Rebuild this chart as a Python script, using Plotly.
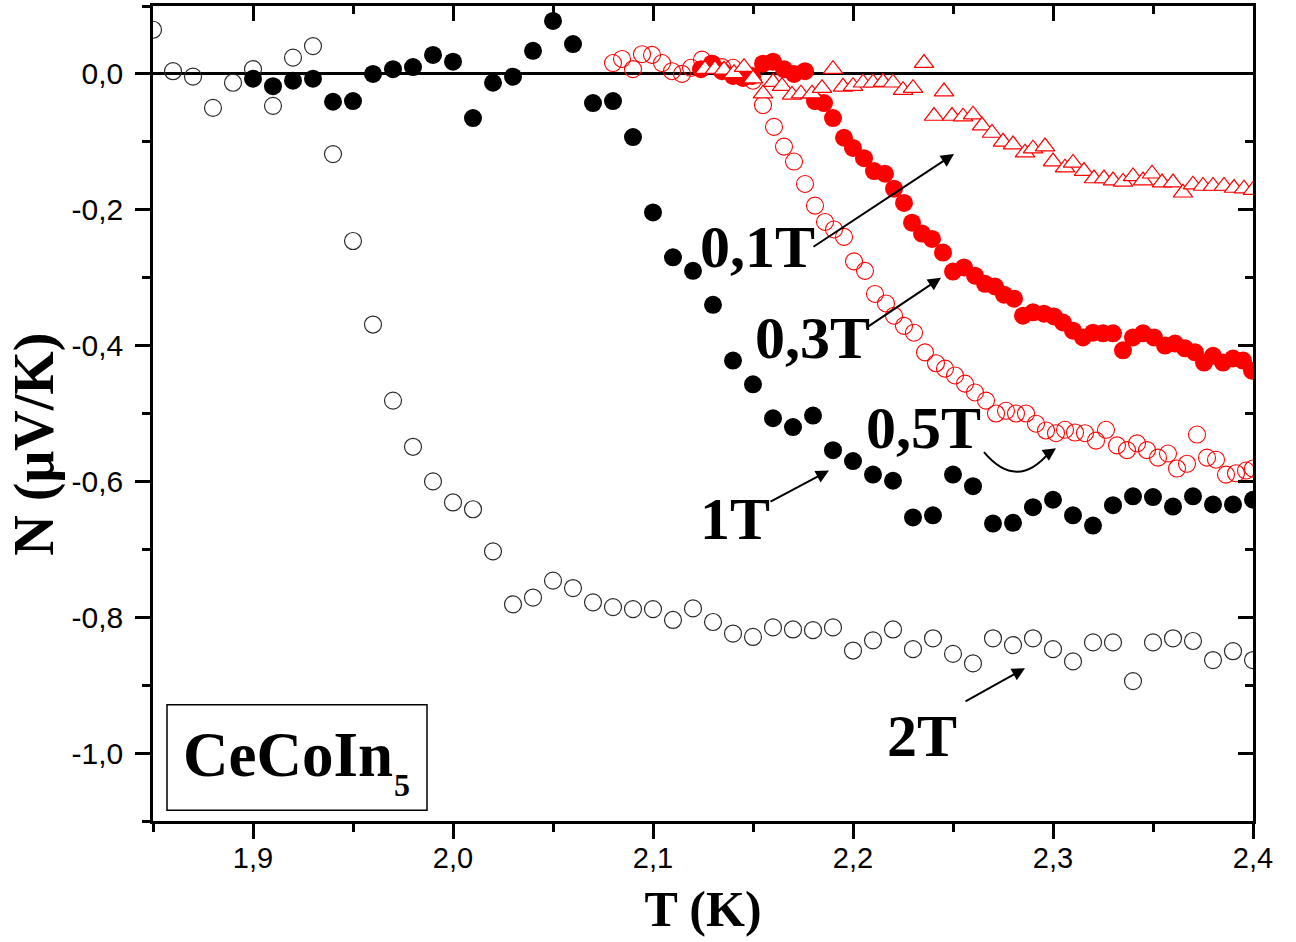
import plotly.graph_objects as go

# ---------------- data ----------------
T_2T = [1.85, 1.86, 1.87, 1.88, 1.89, 1.90, 1.91, 1.92, 1.93, 1.94,
        1.95, 1.96, 1.97, 1.98, 1.99, 2.00, 2.01, 2.02, 2.03, 2.04,
        2.05, 2.06, 2.07, 2.08, 2.09, 2.10, 2.11, 2.12, 2.13, 2.14,
        2.15, 2.16, 2.17, 2.18, 2.19, 2.20, 2.21, 2.22, 2.23, 2.24,
        2.25, 2.26, 2.27, 2.28, 2.29, 2.30, 2.31, 2.32, 2.33, 2.34,
        2.35, 2.36, 2.37, 2.38, 2.39, 2.40]
N_2T = [0.065, 0.004, -0.004, -0.050, -0.013, 0.007, -0.047, 0.024, 0.041, -0.118,
        -0.246, -0.369, -0.481, -0.549, -0.600, -0.631, -0.641, -0.703, -0.781, -0.771,
        -0.746, -0.757, -0.778, -0.785, -0.788, -0.788, -0.804, -0.787, -0.807, -0.824,
        -0.829, -0.815, -0.818, -0.819, -0.815, -0.849, -0.834, -0.818, -0.847, -0.831,
        -0.854, -0.868, -0.831, -0.841, -0.831, -0.847, -0.865, -0.837, -0.837, -0.894,
        -0.837, -0.831, -0.835, -0.863, -0.850, -0.863]

T_1T = [1.90, 1.91, 1.92, 1.93, 1.94, 1.95, 1.96, 1.97, 1.98, 1.99,
        2.00, 2.01, 2.02, 2.03, 2.04, 2.05, 2.06, 2.07, 2.08, 2.09,
        2.10, 2.11, 2.12, 2.13, 2.14, 2.15, 2.16, 2.17, 2.18, 2.19,
        2.20, 2.21, 2.22, 2.23, 2.24, 2.25, 2.26, 2.27, 2.28, 2.29,
        2.30, 2.31, 2.32, 2.33, 2.34, 2.35, 2.36, 2.37, 2.38, 2.39,
        2.40]
N_1T = [-0.007, -0.018, -0.010, -0.007, -0.041, -0.040, 0.000, 0.007, 0.010, 0.028,
        0.018, -0.065, -0.013, -0.004, 0.034, 0.078, 0.044, -0.043, -0.040, -0.093,
        -0.204, -0.270, -0.290, -0.340, -0.422, -0.457, -0.507, -0.520, -0.503, -0.554,
        -0.570, -0.590, -0.599, -0.653, -0.650, -0.590, -0.607, -0.662, -0.661, -0.638,
        -0.627, -0.650, -0.665, -0.635, -0.622, -0.623, -0.637, -0.622, -0.634, -0.634,
        -0.627]

T_05T = [2.080, 2.0845, 2.090, 2.0945, 2.0995, 2.1045, 2.1095, 2.1145, 2.119, 2.1245,
         2.1295, 2.1345, 2.140, 2.145, 2.150, 2.155, 2.1605, 2.1655, 2.1705, 2.176,
         2.181, 2.186, 2.1905, 2.1955, 2.2005, 2.206, 2.211, 2.2165, 2.2205, 2.2255,
         2.2305, 2.236, 2.2415, 2.246, 2.251, 2.256, 2.261, 2.2665, 2.2715, 2.2765,
         2.2815, 2.2865, 2.2915, 2.2965, 2.3015, 2.306, 2.311, 2.316, 2.3215, 2.3265,
         2.332, 2.337, 2.342, 2.347, 2.3525, 2.3575, 2.362, 2.367, 2.372, 2.377,
         2.3815, 2.3865, 2.3915, 2.3965, 2.400]
N_05T = [0.016, 0.022, 0.007, 0.029, 0.028, 0.016, 0.004, 0.000, 0.009, 0.021,
         0.015, 0.010, 0.009, 0.001, -0.010, -0.046, -0.078, -0.107, -0.129, -0.162,
         -0.194, -0.218, -0.229, -0.240, -0.276, -0.290, -0.324, -0.338, -0.356, -0.371,
         -0.381, -0.410, -0.426, -0.434, -0.444, -0.456, -0.469, -0.481, -0.500, -0.496,
         -0.500, -0.500, -0.515, -0.525, -0.529, -0.524, -0.528, -0.529, -0.540, -0.524,
         -0.547, -0.554, -0.544, -0.554, -0.565, -0.559, -0.581, -0.574, -0.531, -0.565,
         -0.568, -0.590, -0.588, -0.584, -0.581]

T_03T = [2.124, 2.1295, 2.1345, 2.140, 2.145, 2.1495, 2.155, 2.160, 2.1655, 2.1705,
         2.176, 2.181, 2.1855, 2.190, 2.1955, 2.200, 2.2055, 2.2105, 2.216, 2.2205,
         2.2255, 2.2295, 2.2345, 2.2395, 2.245, 2.250, 2.2555, 2.261, 2.266, 2.271,
         2.2755, 2.2805, 2.285, 2.290, 2.2955, 2.3005, 2.305, 2.310, 2.315, 2.320,
         2.325, 2.330, 2.335, 2.340, 2.345, 2.3505, 2.356, 2.361, 2.366, 2.371,
         2.3755, 2.380, 2.385, 2.390, 2.395, 2.3995]
N_03T = [0.007, 0.015, 0.004, -0.003, -0.006, -0.003, 0.015, 0.018, 0.007, 0.000,
         0.004, -0.040, -0.043, -0.065, -0.094, -0.109, -0.124, -0.143, -0.147, -0.169,
         -0.190, -0.219, -0.235, -0.243, -0.263, -0.291, -0.285, -0.297, -0.309, -0.313,
         -0.325, -0.331, -0.356, -0.351, -0.353, -0.357, -0.366, -0.378, -0.388, -0.381,
         -0.382, -0.382, -0.407, -0.388, -0.382, -0.388, -0.400, -0.397, -0.404, -0.410,
         -0.425, -0.415, -0.425, -0.419, -0.422, -0.437]

T_01T = [2.126, 2.131, 2.1355, 2.1405, 2.1455, 2.150, 2.155, 2.160, 2.1645, 2.1695,
         2.174, 2.1795, 2.1845, 2.190, 2.195, 2.200, 2.205, 2.210, 2.215, 2.220,
         2.225, 2.230, 2.2355, 2.2405, 2.2455, 2.2495, 2.255, 2.260, 2.2645, 2.2695,
         2.275, 2.280, 2.286, 2.290, 2.296, 2.300, 2.306, 2.310, 2.3155, 2.3205,
         2.3255, 2.330, 2.335, 2.340, 2.345, 2.3495, 2.3545, 2.360, 2.365, 2.370,
         2.375, 2.380, 2.3855, 2.3905, 2.3955, 2.400]
N_01T = [0.007, 0.007, 0.006, 0.001, 0.010, -0.007, -0.029, -0.012, -0.018, -0.031,
         -0.029, -0.029, -0.021, 0.007, -0.019, -0.018, -0.013, -0.013, -0.012, -0.013,
         -0.024, -0.021, 0.016, -0.062, -0.026, -0.062, -0.063, -0.060, -0.076, -0.087,
         -0.100, -0.104, -0.116, -0.110, -0.107, -0.129, -0.138, -0.131, -0.143, -0.154,
         -0.154, -0.157, -0.159, -0.151, -0.157, -0.147, -0.160, -0.160, -0.175, -0.163,
         -0.165, -0.165, -0.165, -0.168, -0.169, -0.171]

x_tickvals = [1.9, 2.0, 2.1, 2.2, 2.3, 2.4]
x_ticktext = ["1,9", "2,0", "2,1", "2,2", "2,3", "2,4"]
y_tickvals = [0.0, -0.2, -0.4, -0.6, -0.8, -1.0]
y_ticktext = ["0,0", "-0,2", "-0,4", "-0,6", "-0,8", "-1,0"]

X_RANGE = [1.85, 2.40]
Y_RANGE = [-1.1, 0.1]

RED = "#ff0000"
SERIF = "Liberation Serif, Times New Roman, serif"
SANS = "Liberation Sans, Arial, sans-serif"

fig = go.Figure()

fig.add_trace(go.Scatter(x=T_2T, y=N_2T, mode="markers", name="2T",
                         marker=dict(symbol="circle-open", size=17,
                                     color="#2a2a2a", line=dict(width=1.2))))
fig.add_trace(go.Scatter(x=T_1T, y=N_1T, mode="markers", name="1T",
                         marker=dict(symbol="circle", size=18, color="black",
                                     line=dict(width=0))))
fig.add_trace(go.Scatter(x=T_05T, y=N_05T, mode="markers", name="0,5T",
                         marker=dict(symbol="circle-open", size=17, color=RED,
                                     line=dict(width=1.1))))
fig.add_trace(go.Scatter(x=T_03T, y=N_03T, mode="markers", name="0,3T",
                         marker=dict(symbol="circle", size=18, color=RED,
                                     line=dict(width=0))))
fig.add_trace(go.Scatter(x=T_01T, y=N_01T, mode="markers", name="0,1T",
                         marker=dict(symbol="triangle-up", size=17, color="white",
                                     line=dict(width=1.2, color=RED))))
# helper trace so that the mirrored top/right axes get drawn
fig.add_trace(go.Scatter(x=[X_RANGE[0]], y=[Y_RANGE[0]], xaxis="x2", yaxis="y2",
                         mode="markers", marker=dict(opacity=0), hoverinfo="skip",
                         showlegend=False))

axis_common = dict(showgrid=False, linecolor="black", linewidth=2.5,
                   tickcolor="black", tickwidth=2.5, ticklen=15)

fig.update_layout(
    width=1296, height=942,
    margin=dict(l=153, r=43, t=6, b=121, autoexpand=False),
    paper_bgcolor="white", plot_bgcolor="white",
    showlegend=False,
    xaxis=dict(range=X_RANGE, tickvals=x_tickvals, ticktext=x_ticktext,
               ticks="outside", showline=True, zeroline=False,
               minor=dict(dtick=0.05, ticks="outside", ticklen=8, tickwidth=2.5,
                          tickcolor="black"),
               tickfont=dict(family=SANS, size=29, color="black"),
               ticklabelstandoff=-6,
               title=dict(text="<b>T (K)</b>", font=dict(family=SERIF, size=50, color="black"),
                          standoff=19),
               **axis_common),
    yaxis=dict(range=Y_RANGE, tickvals=y_tickvals, ticktext=y_ticktext,
               ticks="outside", showline=True,
               zeroline=True, zerolinecolor="black", zerolinewidth=2.5,
               minor=dict(dtick=0.1, ticks="outside", ticklen=8, tickwidth=2.5,
                          tickcolor="black"),
               tickfont=dict(family=SANS, size=30, color="black"),
               ticklabelstandoff=6,
               **axis_common),
    xaxis2=dict(range=X_RANGE, overlaying="x", side="top", anchor="y2",
                tickvals=x_tickvals, ticks="inside", showticklabels=False,
                showline=True, zeroline=False,
                minor=dict(dtick=0.05, ticks="inside", ticklen=8, tickwidth=2.5,
                           tickcolor="black"),
                **axis_common),
    yaxis2=dict(range=Y_RANGE, overlaying="y", side="right", anchor="x2",
                tickvals=y_tickvals, ticks="inside", showticklabels=False,
                showline=True, zeroline=False,
                minor=dict(dtick=0.1, ticks="inside", ticklen=8, tickwidth=2.5,
                           tickcolor="black"),
                **axis_common),
)

# y-axis title (placed as rotated text, slightly below the axis centre as in the original)
fig.add_annotation(x=-0.1073, y=0.463, xref="paper", yref="paper",
                   text="<b>N (μV/K)</b>", textangle=-90, showarrow=False,
                   font=dict(family=SERIF, size=56, color="black"),
                   xanchor="center", yanchor="middle")

# ---------------- labels and arrows ----------------
label_font = dict(family=SERIF, size=60, color="black")
labels = [("0,1T", 2.152, -0.255), ("0,3T", 2.1795, -0.389), ("0,5T", 2.235, -0.521),
          ("1T", 2.141, -0.656), ("2T", 2.2345, -0.975)]
for txt, lx, ly in labels:
    fig.add_annotation(x=lx, y=ly, xref="x", yref="y", text="<b>" + txt + "</b>",
                       showarrow=False, font=label_font, xanchor="center", yanchor="middle")

arrows = [((2.1795, -0.256), (2.2505, -0.118)),
          ((2.206, -0.375), (2.244, -0.300)),
          ((2.158, -0.631), (2.188, -0.584)),
          ((2.2555, -0.925), (2.286, -0.875))]
for (tx, ty), (hx, hy) in arrows:
    fig.add_annotation(x=hx, y=hy, ax=tx, ay=ty, xref="x", yref="y", axref="x", ayref="y",
                       text="", showarrow=True, arrowhead=2, arrowsize=1.3,
                       arrowwidth=2, arrowcolor="black")

# curved arrow for 0,5T
fig.add_shape(type="path", xref="x", yref="y",
              path="M 2.2655 -0.557 Q 2.282 -0.615 2.2985 -0.556",
              line=dict(color="black", width=2))
fig.add_annotation(x=2.3015, y=-0.551, ax=2.2975, ay=-0.559, xref="x", yref="y",
                   axref="x", ayref="y", text="", showarrow=True, arrowhead=2,
                   arrowsize=1.3, arrowwidth=2, arrowcolor="black")

# CeCoIn5 box
fig.add_shape(type="rect", xref="x", yref="y", x0=1.857, x1=1.987, y0=-1.084, y1=-0.929,
              line=dict(color="black", width=1.5), fillcolor="white")
fig.add_annotation(x=1.9175, y=-1.003, xref="x", yref="y",
                   text="<b>CeCoIn</b>", showarrow=False,
                   font=dict(family=SERIF, size=63, color="black"),
                   xanchor="center", yanchor="middle")
fig.add_annotation(x=1.9793, y=-1.047, xref="x", yref="y",
                   text="<b>5</b>", showarrow=False,
                   font=dict(family=SERIF, size=32, color="black"),
                   xanchor="right", yanchor="middle")

fig.write_html("out.html", config={"displayModeBar": False},
               post_script="document.body.style.margin='0px';")
